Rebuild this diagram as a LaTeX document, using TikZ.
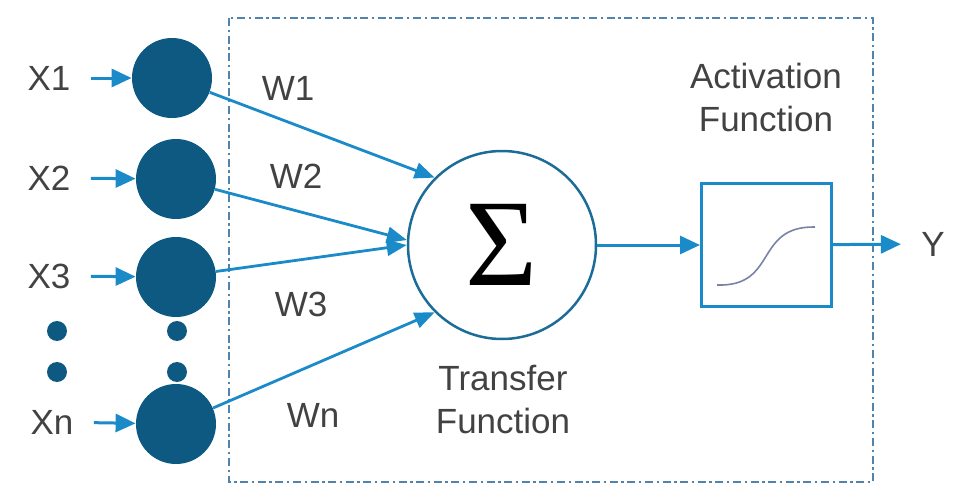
\documentclass[tikz,border=0pt]{standalone}
\usepackage{fontspec}
\setmainfont{Liberation Sans}
\newfontfamily\sigmafont{Liberation Serif}
\usepackage{graphicx,xcolor}
\definecolor{nndark}{RGB}{13,89,130}
\definecolor{nnblue}{RGB}{26,138,200}
\definecolor{nnring}{RGB}{28,108,152}
\definecolor{nnframe}{RGB}{80,132,172}
\definecolor{nntext}{RGB}{66,66,66}
\definecolor{nncurve}{RGB}{120,132,165}
\usetikzlibrary{arrows.meta,positioning}

\begin{document}
\begin{tikzpicture}[x=0.5pt, y=-0.5pt,
  lbl/.style={text=nntext, font=\fontsize{17.5}{21.5}\selectfont, inner sep=0pt, align=center},
  inode/.style={circle, fill=nndark, minimum size=40pt, inner sep=0pt},
  dotnode/.style={circle, fill=nndark, minimum size=10pt, inner sep=0pt},
  feed/.style={-{Triangle[length=10pt,width=9pt]}, line width=1.5pt, nnblue},
  wire/.style={-{Triangle[length=10pt,width=8pt]}, line width=1.4pt, nnblue}]

  \useasboundingbox (0,0) rectangle (955,487);

  %% Neuron frame
  \draw[nnframe, line width=0.9pt, dash pattern=on 4pt off 1.8pt on 1.2pt off 1.8pt]
    (229,18) rectangle (873,482);

  %% Inputs
  \node[lbl]   (x1lbl) at (49,78)  {X1};
  \node[inode] (x1)    at (172,78) {};
  \node[lbl]   (x2lbl) at (49,178) {X2};
  \node[inode] (x2)    at (176,179) {};
  \node[lbl]   (x3lbl) at (49,276) {X3};
  \node[inode] (x3)    at (176,277) {};
  \node[lbl]   (xnlbl) at (52,422) {Xn};
  \node[inode] (xn)    at (176,424) {};

  \draw[feed, shorten <=10pt] (x1lbl) -- (x1);
  \draw[feed, shorten <=10pt] (x2lbl) -- (x2);
  \draw[feed, shorten <=10pt] (x3lbl) -- (x3);
  \draw[feed, shorten <=10pt] (xnlbl) -- (xn);

  %% Ellipsis dots
  \node[dotnode] (ldot1) at (57,331) {};
  \node[dotnode] (ldot2) at (57,372) {};
  \node[dotnode] (rdot1) at (177,331) {};
  \node[dotnode] (rdot2) at (177,372) {};

  %% Summing junction
  \node[circle, draw=nnring, line width=1.25pt, fill=white, minimum size=94pt, inner sep=0pt]
    (sum) at (502,245) {\sigmafont\fontsize{62}{62}\selectfont Σ};
  \node[lbl] (sumlbl) at (503,400) {Transfer\\Function};

  %% Weighted connections
  \draw[wire] (x1) -- (sum.135);
  \draw[wire] (x2) -- (sum.177);
  \draw[wire] (x3) -- (sum.180);
  \draw[wire] (xn) -- (sum.225);

  \node[lbl] (w1) at (288,88)  {W1};
  \node[lbl] (w2) at (296,176) {W2};
  \node[lbl] (w3) at (301,304) {W3};
  \node[lbl] (wn) at (313,415) {Wn};

  %% Activation block
  \node[draw=nnblue, line width=1.5pt, fill=white, minimum width=65pt, minimum height=61.5pt, inner sep=0pt]
    (act) at (766.5,245) {};
  \draw[nncurve, line width=0.8pt]
    (717,285) .. controls (778,287) and (754,226) .. (815,227);
  \node[lbl] (actlbl) at (766,97) {Activation\\Function};

  %% Output
  \node[lbl] (ylbl) at (933,244) {Y};
  \draw[feed] (sum) -- (act);
  \draw[feed, shorten >=10pt] (act) -- (ylbl);
\end{tikzpicture}
\end{document}
